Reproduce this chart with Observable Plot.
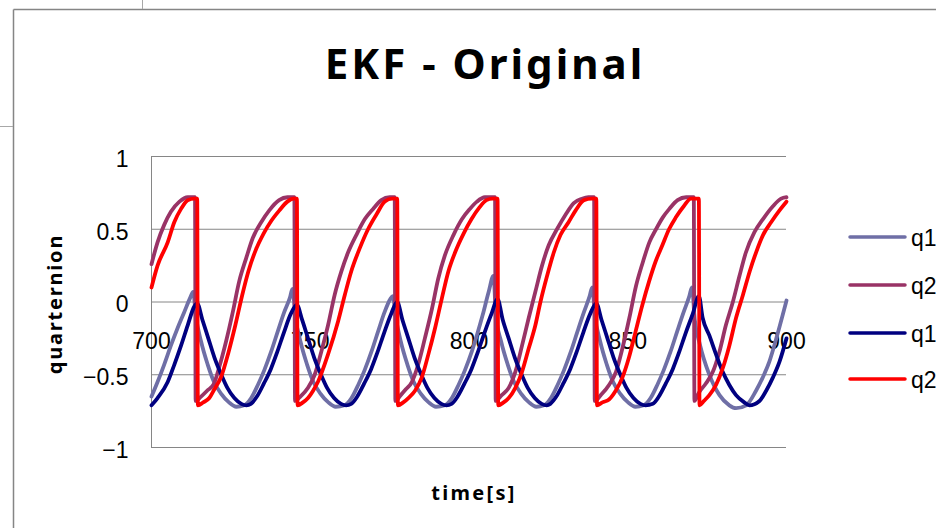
<!DOCTYPE html>
<html>
<head>
<meta charset="utf-8">
<script src="https://cdn.jsdelivr.net/npm/d3@7"></script>
<script src="https://cdn.jsdelivr.net/npm/@observablehq/plot@0.6"></script>
<style>
  html, body { margin: 0; padding: 0; background: #fff; }
  #wrap { position: relative; width: 936px; height: 528px; overflow: hidden; background: #fff; }
  #wrap > svg { position: absolute; left: 0; top: 0; }
  #overlay { pointer-events: none; }
</style>
</head>
<body>
<div id="wrap"></div>
<script>
// ---- data (time [s], quaternion value) ----
const title = "EKF - Original";
const xLabel = "time[s]";
const yLabel = "quarternion";
const xTicks = [700, 750, 800, 850, 900];
const yTicks = [-1, -0.5, 0, 0.5, 1];
const seriesNames = ["q1", "q2", "q1", "q2"];
const seriesColors = ["#6f6fa6", "#993366", "#000080", "#ff0000"];

const q1Light = [
 [700,-0.65],[701.9,-0.55],[704.0,-0.43],[706.1,-0.30],[708.2,-0.18],[710.3,-0.07],[712.2,0.03],[713.1,0.07],
 [714.0,-0.10],[715.6,-0.27],[717.7,-0.43],[719.7,-0.55],[721.9,-0.63],[724.4,-0.69],[726.7,-0.72],
 [729.2,-0.71],[731.4,-0.66],[733.5,-0.57],[735.5,-0.47],[737.7,-0.34],[739.8,-0.20],[741.8,-0.07],[743.6,0.03],[744.4,0.09],
 [745.3,-0.10],[746.9,-0.27],[749.0,-0.43],[751.0,-0.55],[753.2,-0.63],[755.7,-0.69],[758.0,-0.72],
 [760.8,-0.71],[763.0,-0.66],[765.1,-0.57],[767.1,-0.47],[769.3,-0.34],[771.4,-0.20],[773.4,-0.07],[775.2,0.02],[776.0,0.04],
 [776.9,-0.10],[778.5,-0.27],[780.6,-0.43],[782.6,-0.55],[784.8,-0.63],[787.3,-0.69],[789.6,-0.72],
 [792.4,-0.71],[794.6,-0.66],[796.7,-0.57],[798.7,-0.47],[800.9,-0.34],[802.6,-0.22],[804.3,-0.09],[806.2,0.07],[807.7,0.18],
 [808.5,-0.10],[810.1,-0.27],[812.2,-0.43],[814.2,-0.55],[816.4,-0.63],[818.9,-0.69],[821.2,-0.72],
 [823.6,-0.71],[825.8,-0.66],[827.9,-0.57],[829.9,-0.47],[832.1,-0.34],[834.2,-0.20],[836.2,-0.07],[838.0,0.04],[838.8,0.10],
 [839.7,-0.10],[841.3,-0.27],[843.4,-0.43],[845.4,-0.55],[847.6,-0.63],[850.1,-0.69],[852.4,-0.72],
 [855.0,-0.71],[857.2,-0.66],[859.3,-0.57],[861.3,-0.47],[863.5,-0.34],[865.6,-0.20],[867.6,-0.07],[869.4,0.04],[870.2,0.10],
 [871.1,-0.12],[872.7,-0.29],[875.7,-0.50],[878.9,-0.64],[882.0,-0.71],[884.1,-0.73],[887.3,-0.71],[890.4,-0.61],
 [892.5,-0.52],[894.6,-0.41],[896.8,-0.25],[898.8,-0.09],[900,0.01]
];

const q2Maroon = [
 [700,0.26],[701.9,0.41],[704.0,0.53],[706.1,0.62],[708.8,0.69],[711.4,0.72],[713.7,0.72],
 [713.9,-0.68],[715.6,-0.65],[717.5,-0.61],[719.7,-0.56],[721.3,-0.45],[723.5,-0.27],[725.6,-0.07],[727.6,0.14],[729.8,0.30],[731.9,0.44],[734.6,0.55],[737.1,0.63],[740.2,0.70],[742.8,0.72],[745.0,0.72],
 [745.2,-0.68],[746.9,-0.65],[749.3,-0.59],[751.4,-0.50],[753.5,-0.34],[755.6,-0.16],[757.7,0.05],[759.8,0.21],[761.9,0.34],[764.5,0.46],[767.2,0.57],[769.8,0.64],[772.4,0.70],[775.0,0.72],[776.6,0.72],
 [776.8,-0.68],[778.5,-0.64],[780.1,-0.60],[782.0,-0.55],[784.0,-0.43],[786.1,-0.25],[788.3,-0.05],[790.3,0.16],[792.4,0.32],[795.1,0.46],[797.8,0.57],[800.3,0.64],[802.5,0.69],[805.0,0.72],[808.2,0.72],
 [808.4,-0.68],[810.3,-0.64],[812.5,-0.59],[814.6,-0.48],[816.7,-0.30],[818.8,-0.11],[820.9,0.07],[823.0,0.25],[825.1,0.39],[827.7,0.50],[830.4,0.60],[833.0,0.68],[835.6,0.71],[837.6,0.72],[839.4,0.72],
 [839.6,-0.68],[841.5,-0.64],[844.1,-0.57],[846.3,-0.48],[848.3,-0.32],[850.5,-0.11],[852.6,0.11],[854.7,0.27],[856.8,0.41],[858.9,0.50],[861.0,0.58],[863.1,0.64],[865.7,0.70],[868.4,0.72],[870.8,0.72],
 [871.0,-0.68],[872.5,-0.62],[874.6,-0.56],[876.8,-0.48],[878.9,-0.34],[880.9,-0.16],[883.1,0.00],[885.2,0.18],[887.2,0.34],[889.9,0.48],[892.6,0.57],[895.8,0.66],[898.3,0.71],[900,0.72]
];

const q1Navy = [
 [700,-0.71],[701.9,-0.66],[705.1,-0.55],[707.2,-0.43],[709.3,-0.30],[711.4,-0.16],[713.5,-0.03],[714.4,-0.01],
 [716.0,-0.12],[717.9,-0.25],[719.8,-0.38],[722.0,-0.50],[723.9,-0.59],[726.1,-0.66],[728.3,-0.70],[729.9,-0.71],
 [731.3,-0.70],[733.2,-0.65],[735.4,-0.56],[737.6,-0.46],[739.5,-0.35],[741.7,-0.21],[743.9,-0.08],[745.8,-0.02],
 [747.4,-0.12],[749.3,-0.25],[751.2,-0.38],[753.4,-0.50],[755.3,-0.59],[757.5,-0.66],[759.7,-0.70],[761.3,-0.71],
 [762.9,-0.70],[764.8,-0.65],[767.0,-0.56],[769.2,-0.46],[771.1,-0.35],[773.3,-0.21],[775.5,-0.08],[777.4,0.00],
 [779.0,-0.12],[780.9,-0.25],[782.8,-0.38],[785.0,-0.50],[786.9,-0.59],[789.1,-0.66],[791.3,-0.70],[792.9,-0.71],
 [794.5,-0.70],[796.4,-0.65],[798.6,-0.56],[800.8,-0.46],[802.7,-0.35],[804.9,-0.21],[807.1,-0.08],[809.0,0.02],
 [810.6,-0.12],[812.5,-0.25],[814.4,-0.38],[816.6,-0.50],[818.5,-0.59],[820.7,-0.66],[822.9,-0.70],[824.5,-0.71],
 [825.6,-0.70],[827.5,-0.65],[829.7,-0.56],[831.9,-0.46],[833.8,-0.35],[836.0,-0.21],[838.2,-0.08],[840.1,-0.01],
 [841.7,-0.12],[843.6,-0.25],[845.5,-0.38],[847.7,-0.50],[849.6,-0.59],[851.8,-0.66],[854.0,-0.70],[855.6,-0.71],
 [857.9,-0.70],[859.8,-0.65],[862.0,-0.56],[864.2,-0.46],[866.1,-0.35],[868.3,-0.21],[870.5,-0.08],[872.4,0.04],
 [873.6,-0.11],[875.7,-0.23],[877.8,-0.36],[879.9,-0.48],[882.0,-0.57],[884.1,-0.64],[886.7,-0.69],[888.3,-0.71],
 [891.5,-0.68],[893.6,-0.61],[895.7,-0.52],[897.8,-0.41],[900,-0.25]
];

const q2Red = [
 [700,0.10],[701.9,0.25],[705.1,0.41],[707.2,0.55],[709.3,0.64],[711.4,0.70],[713.5,0.71],[714.4,0.71],
 [714.6,-0.71],[716.3,-0.69],[718.2,-0.66],[719.8,-0.60],[722.0,-0.51],[724.2,-0.35],[726.4,-0.16],[728.6,0.05],[730.5,0.21],[732.7,0.35],[735.3,0.47],[737.8,0.56],[740.3,0.63],[742.8,0.69],[744.7,0.71],[745.8,0.71],
 [746.0,-0.71],[747.7,-0.69],[749.3,-0.66],[750.9,-0.61],[752.4,-0.55],[755.6,-0.36],[758.8,-0.13],[760.9,0.05],[762.9,0.21],[765.6,0.37],[768.2,0.50],[770.8,0.60],[773.5,0.69],[775.8,0.71],[777.4,0.71],
 [777.6,-0.71],[779.3,-0.69],[780.9,-0.66],[783.0,-0.61],[785.1,-0.52],[787.2,-0.36],[789.3,-0.18],[791.4,0.02],[793.5,0.21],[795.6,0.34],[798.3,0.47],[800.8,0.57],[803.3,0.65],[805.5,0.70],[807.4,0.71],[809.0,0.71],
 [809.2,-0.71],[810.9,-0.69],[812.5,-0.66],[814.6,-0.59],[816.7,-0.48],[818.8,-0.32],[820.9,-0.16],[822.5,0.00],[824.6,0.18],[826.7,0.34],[828.8,0.46],[831.4,0.55],[833.6,0.63],[836.2,0.70],[838.7,0.71],[840.1,0.71],
 [840.3,-0.71],[842.0,-0.69],[844.1,-0.67],[846.2,-0.61],[848.3,-0.52],[850.4,-0.38],[852.5,-0.20],[854.6,-0.02],[856.7,0.14],[858.8,0.28],[860.9,0.39],[863.0,0.50],[865.1,0.58],[867.7,0.66],[869.9,0.71],[872.4,0.71],
 [872.6,-0.71],[874.0,-0.68],[875.7,-0.64],[877.8,-0.57],[880.0,-0.45],[882.0,-0.30],[884.1,-0.11],[886.3,0.05],[888.4,0.21],[890.4,0.34],[892.6,0.46],[895.2,0.55],[897.8,0.63],[900,0.69]
];

const seriesData = [q1Light, q2Maroon, q1Navy, q2Red];

// ---- chart ----
const gridColor = "#868686";
const fmt = d => (d < 0 ? "\u2212" : "") + String(Math.abs(d));

const chart = Plot.plot({
  width: 936,
  height: 528,
  marginLeft: 151,
  marginRight: 150,
  marginTop: 156,
  marginBottom: 81,
  x: {domain: [700, 900], axis: null},
  y: {domain: [-1, 1]},
  style: {background: "transparent", fontFamily: "'Liberation Sans', Arial, sans-serif", color: "#000"},
  marks: [
    Plot.gridY(yTicks, {stroke: gridColor, strokeOpacity: 1, strokeWidth: 1}),
    Plot.ruleX([700], {y1: -1, y2: 1, stroke: gridColor, strokeWidth: 1}),
    Plot.axisY(yTicks, {tickSize: 0, tickPadding: 23, fontSize: 23, tickFormat: fmt, dy: 3, label: null, fill: "#000"}),
    Plot.text(xTicks, {x: d => d, y: () => 0, text: d => String(d), dy: 40, fontSize: 23, fill: "#000"}),
    ...seriesData.map((data, i) => Plot.line(data, {
      x: d => d[0], y: d => d[1], stroke: seriesColors[i], strokeWidth: 3.8,
      curve: "monotone-x", strokeLinejoin: "round", strokeLinecap: "round"
    }))
  ]
});
document.getElementById("wrap").appendChild(chart);

// ---- decorations: frame, title, axis titles, legend ----
const ns = "http://www.w3.org/2000/svg";
const ov = document.createElementNS(ns, "svg");
ov.setAttribute("id", "overlay");
ov.setAttribute("width", 936);
ov.setAttribute("height", 528);
function el(tag, attrs, text) {
  const e = document.createElementNS(ns, tag);
  for (const k in attrs) e.setAttribute(k, attrs[k]);
  if (text != null) e.textContent = text;
  ov.appendChild(e);
  return e;
}
el("line", {x1: 13.5, y1: 9.5, x2: 936, y2: 9.5, stroke: "#858585", "stroke-width": 1.5});
el("line", {x1: 13.5, y1: 9.5, x2: 13.5, y2: 528, stroke: "#858585", "stroke-width": 1.5});
el("line", {x1: 142.5, y1: 0, x2: 142.5, y2: 9, stroke: "#a8a8a8", "stroke-width": 1});
el("line", {x1: 0, y1: 126.5, x2: 13, y2: 126.5, stroke: "#a8a8a8", "stroke-width": 1});

el("text", {x: 485, y: 79, "text-anchor": "middle", "font-family": "'Noto Sans', 'Open Sans', sans-serif",
  "font-weight": "bold", "font-size": 42, "letter-spacing": 3, fill: "#000"}, title);
el("text", {x: 474, y: 500, "text-anchor": "middle", "font-family": "'Noto Sans', 'Open Sans', sans-serif",
  "font-weight": "bold", "font-size": 20, "letter-spacing": 2.3, fill: "#000"}, xLabel);
el("text", {x: 0, y: 0, transform: "translate(62,304) rotate(-90)", "text-anchor": "middle",
  "font-family": "'Noto Sans', 'Open Sans', sans-serif", "font-weight": "bold", "font-size": 20,
  "letter-spacing": 1.8, fill: "#000"}, yLabel);

const legendY = [237, 285, 333, 379];
seriesNames.forEach((name, i) => {
  el("line", {x1: 850, y1: legendY[i], x2: 905, y2: legendY[i], stroke: seriesColors[i],
    "stroke-width": 3.5, "stroke-linecap": "round"});
  el("text", {x: 911, y: legendY[i] + 9, "font-family": "'Liberation Sans', Arial, sans-serif",
    "font-size": 23, fill: "#000"}, name);
});
document.getElementById("wrap").appendChild(ov);
</script>
</body>
</html>
